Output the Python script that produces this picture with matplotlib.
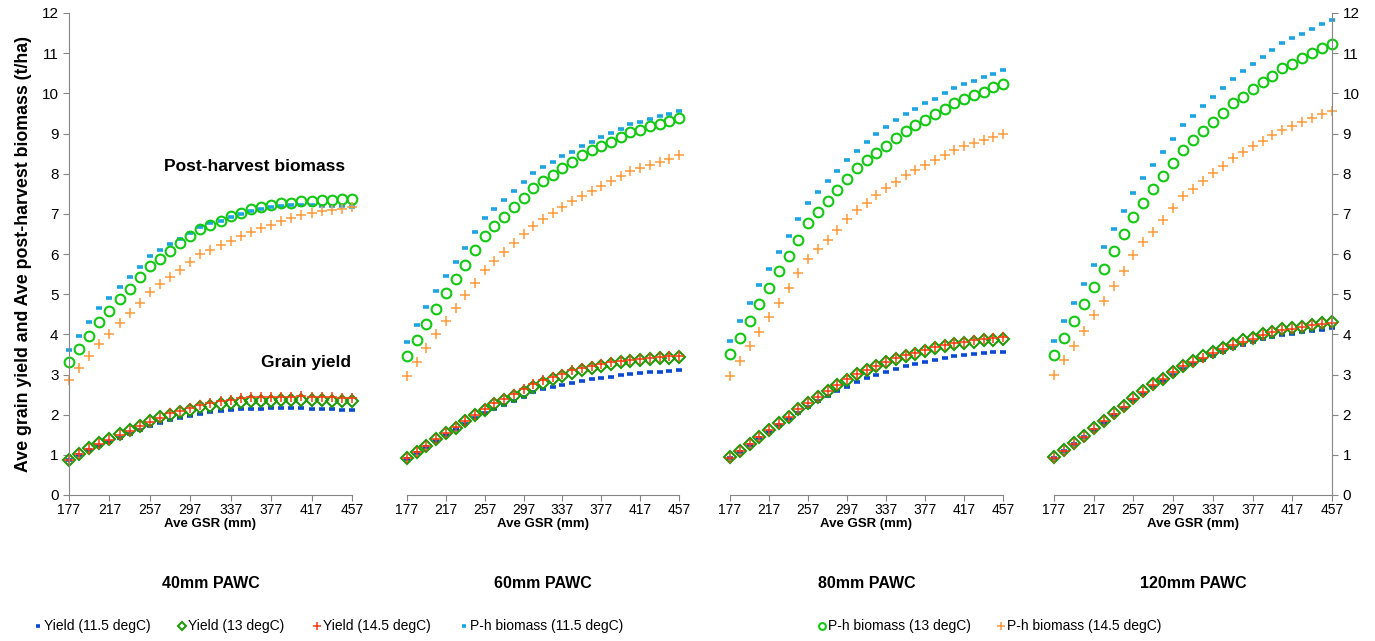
import matplotlib
matplotlib.use("Agg")
import matplotlib.pyplot as plt
from matplotlib.lines import Line2D

plt.rcParams['font.family'] = ['Liberation Sans', 'DejaVu Sans']

gsr = list(range(177, 458, 10))
xticks = [177, 217, 257, 297, 337, 377, 417, 457]
panels = ["40mm PAWC", "60mm PAWC", "80mm PAWC", "120mm PAWC"]

# ---- 40mm PAWC ----
yld115_40 = [0.87, 0.99, 1.12, 1.23, 1.33, 1.43, 1.53, 1.62, 1.72, 1.80, 1.86, 1.91, 1.97, 2.02, 2.06,
             2.09, 2.11, 2.13, 2.15, 2.15, 2.16, 2.16, 2.16, 2.16, 2.15, 2.14, 2.13, 2.12, 2.11]
yld13_40 = [0.86, 1.02, 1.16, 1.29, 1.39, 1.51, 1.62, 1.73, 1.83, 1.94, 1.99, 2.06, 2.12, 2.18, 2.22,
            2.26, 2.28, 2.31, 2.33, 2.34, 2.35, 2.36, 2.37, 2.37, 2.36, 2.36, 2.35, 2.34, 2.33]
yld145_40 = [0.86, 1.01, 1.14, 1.27, 1.38, 1.49, 1.60, 1.71, 1.82, 1.91, 2.03, 2.10, 2.17, 2.24, 2.28,
             2.33, 2.37, 2.41, 2.43, 2.44, 2.44, 2.45, 2.45, 2.46, 2.45, 2.44, 2.43, 2.42, 2.41]
bio115_40 = [3.60, 3.96, 4.31, 4.66, 4.91, 5.17, 5.43, 5.67, 5.95, 6.09, 6.24, 6.37, 6.52, 6.68, 6.78,
             6.83, 6.91, 7.00, 7.07, 7.13, 7.16, 7.20, 7.22, 7.22, 7.22, 7.20, 7.20, 7.19, 7.18]
bio13_40 = [3.30, 3.63, 3.97, 4.30, 4.57, 4.87, 5.14, 5.43, 5.69, 5.88, 6.08, 6.27, 6.45, 6.63, 6.73,
            6.83, 6.94, 7.02, 7.11, 7.18, 7.22, 7.26, 7.28, 7.31, 7.32, 7.34, 7.35, 7.36, 7.38]
bio145_40 = [2.86, 3.16, 3.47, 3.76, 4.02, 4.27, 4.53, 4.79, 5.05, 5.25, 5.43, 5.61, 5.81, 6.00, 6.11,
             6.23, 6.33, 6.44, 6.55, 6.64, 6.73, 6.82, 6.90, 6.96, 7.02, 7.06, 7.10, 7.13, 7.16]

# ---- 60mm PAWC ----
yld115_60 = [0.90, 1.05, 1.20, 1.35, 1.50, 1.64, 1.78, 1.91, 2.03, 2.14, 2.24, 2.35, 2.45, 2.56, 2.63,
             2.69, 2.74, 2.79, 2.84, 2.88, 2.91, 2.95, 2.98, 3.01, 3.03, 3.05, 3.07, 3.08, 3.10]
yld13_60 = [0.91, 1.07, 1.23, 1.39, 1.54, 1.68, 1.84, 1.99, 2.12, 2.26, 2.37, 2.47, 2.57, 2.70, 2.80,
            2.88, 2.97, 3.03, 3.11, 3.16, 3.22, 3.26, 3.31, 3.34, 3.36, 3.39, 3.41, 3.42, 3.43]
yld145_60 = [0.91, 1.07, 1.23, 1.39, 1.54, 1.69, 1.85, 2.00, 2.14, 2.28, 2.40, 2.52, 2.64, 2.77, 2.86,
             2.94, 3.02, 3.10, 3.16, 3.21, 3.27, 3.30, 3.34, 3.36, 3.39, 3.41, 3.43, 3.45, 3.47]
bio115_60 = [3.80, 4.24, 4.69, 5.08, 5.46, 5.81, 6.16, 6.54, 6.90, 7.12, 7.34, 7.56, 7.79, 8.01, 8.16,
             8.29, 8.43, 8.55, 8.70, 8.80, 8.91, 9.01, 9.11, 9.23, 9.29, 9.37, 9.43, 9.49, 9.57]
bio13_60 = [3.47, 3.86, 4.26, 4.64, 5.02, 5.37, 5.73, 6.09, 6.45, 6.69, 6.92, 7.17, 7.40, 7.64, 7.81,
            7.97, 8.14, 8.29, 8.47, 8.58, 8.70, 8.80, 8.91, 9.03, 9.09, 9.18, 9.24, 9.30, 9.38]
bio145_60 = [2.97, 3.32, 3.67, 4.02, 4.34, 4.66, 4.98, 5.29, 5.61, 5.83, 6.05, 6.27, 6.49, 6.70, 6.86,
             7.02, 7.16, 7.31, 7.45, 7.57, 7.70, 7.82, 7.93, 8.06, 8.14, 8.22, 8.29, 8.37, 8.46]

# ---- 80mm PAWC ----
yld115_80 = [0.93, 1.08, 1.24, 1.41, 1.58, 1.74, 1.89, 2.04, 2.19, 2.33, 2.46, 2.58, 2.70, 2.82, 2.91,
             2.99, 3.06, 3.14, 3.21, 3.26, 3.31, 3.36, 3.41, 3.45, 3.48, 3.51, 3.53, 3.55, 3.57]
yld13_80 = [0.94, 1.10, 1.27, 1.45, 1.62, 1.79, 1.95, 2.13, 2.30, 2.45, 2.59, 2.73, 2.87, 3.01, 3.11,
            3.20, 3.30, 3.38, 3.46, 3.51, 3.58, 3.65, 3.70, 3.75, 3.79, 3.81, 3.85, 3.86, 3.88]
yld145_80 = [0.93, 1.09, 1.26, 1.44, 1.61, 1.78, 1.95, 2.13, 2.30, 2.45, 2.60, 2.74, 2.88, 3.02, 3.12,
             3.22, 3.32, 3.40, 3.48, 3.54, 3.61, 3.68, 3.73, 3.78, 3.82, 3.85, 3.89, 3.91, 3.94]
bio115_80 = [3.84, 4.32, 4.78, 5.24, 5.63, 6.04, 6.46, 6.88, 7.28, 7.55, 7.81, 8.07, 8.33, 8.57, 8.79,
             8.98, 9.17, 9.34, 9.48, 9.62, 9.75, 9.87, 10.01, 10.13, 10.22, 10.31, 10.40, 10.49, 10.57]
bio13_80 = [3.50, 3.91, 4.33, 4.75, 5.16, 5.57, 5.95, 6.36, 6.76, 7.04, 7.31, 7.59, 7.86, 8.14, 8.33,
            8.52, 8.70, 8.88, 9.06, 9.21, 9.34, 9.49, 9.62, 9.75, 9.87, 9.95, 10.04, 10.15, 10.24]
bio145_80 = [2.97, 3.34, 3.71, 4.06, 4.43, 4.79, 5.15, 5.52, 5.87, 6.12, 6.36, 6.60, 6.86, 7.10, 7.28,
             7.47, 7.64, 7.80, 7.97, 8.09, 8.22, 8.34, 8.47, 8.59, 8.68, 8.77, 8.85, 8.92, 8.99]

# ---- 120mm PAWC ----
yld115_120 = [0.93, 1.09, 1.26, 1.44, 1.62, 1.80, 1.98, 2.17, 2.36, 2.52, 2.69, 2.84, 3.00, 3.14, 3.25,
              3.36, 3.47, 3.56, 3.65, 3.73, 3.80, 3.88, 3.93, 3.98, 4.02, 4.06, 4.09, 4.12, 4.15]
yld13_120 = [0.95, 1.12, 1.29, 1.48, 1.66, 1.85, 2.03, 2.22, 2.41, 2.58, 2.76, 2.90, 3.07, 3.22, 3.34,
             3.45, 3.56, 3.66, 3.77, 3.85, 3.91, 4.01, 4.07, 4.13, 4.16, 4.19, 4.24, 4.27, 4.30]
yld145_120 = [0.93, 1.10, 1.27, 1.45, 1.64, 1.83, 2.01, 2.20, 2.39, 2.56, 2.73, 2.88, 3.05, 3.20, 3.31,
              3.42, 3.53, 3.63, 3.74, 3.82, 3.89, 3.98, 4.05, 4.11, 4.14, 4.18, 4.22, 4.25, 4.28]
bio115_120 = [3.83, 4.32, 4.79, 5.26, 5.73, 6.17, 6.61, 7.08, 7.53, 7.88, 8.21, 8.54, 8.87, 9.20, 9.44,
              9.68, 9.90, 10.13, 10.35, 10.56, 10.73, 10.90, 11.08, 11.25, 11.37, 11.48, 11.60, 11.72, 11.83]
bio13_120 = [3.48, 3.91, 4.32, 4.76, 5.19, 5.62, 6.07, 6.51, 6.93, 7.27, 7.61, 7.94, 8.26, 8.60, 8.83,
             9.07, 9.29, 9.52, 9.75, 9.92, 10.10, 10.27, 10.43, 10.62, 10.73, 10.87, 11.00, 11.12, 11.23]
bio145_120 = [2.98, 3.35, 3.70, 4.08, 4.47, 4.83, 5.21, 5.58, 5.97, 6.29, 6.56, 6.84, 7.15, 7.44, 7.61,
              7.82, 8.02, 8.20, 8.38, 8.54, 8.68, 8.82, 8.96, 9.08, 9.18, 9.28, 9.38, 9.48, 9.57]

data = [
    [yld115_40, yld13_40, yld145_40, bio115_40, bio13_40, bio145_40],
    [yld115_60, yld13_60, yld145_60, bio115_60, bio13_60, bio145_60],
    [yld115_80, yld13_80, yld145_80, bio115_80, bio13_80, bio145_80],
    [yld115_120, yld13_120, yld145_120, bio115_120, bio13_120, bio145_120],
]
labels = ["Yield (11.5 degC)", "Yield (13 degC)", "Yield (14.5 degC)",
          "P-h biomass (11.5 degC)", "P-h biomass (13 degC)", "P-h biomass (14.5 degC)"]

styles = [
    dict(marker='_', color='#0a4ad2', ms=5, mew=2.6),
    dict(marker='D', mfc='none', mec='#1f9a06', ms=6.3, mew=1.5),
    dict(marker='+', color='#ff3a10', ms=7.5, mew=1.1),
    dict(marker='_', color='#1ea4e0', ms=5, mew=2.6),
    dict(marker='o', mfc='none', mec='#12c812', ms=7, mew=1.5),
    dict(marker='+', color='#ff9a3a', ms=7.5, mew=1.1),
]

W, H = 1375, 641
fig = plt.figure(figsize=(W / 100, H / 100), dpi=100)
boxes = [(69, 352), (407, 679), (730, 1003), (1054, 1332)]
top, bot = 13, 495
axc = '#868686'

for i, (x0, x1) in enumerate(boxes):
    ax = fig.add_axes([x0 / W, (H - bot) / H, (x1 - x0) / W, (bot - top) / H])
    for vals, st in zip(data[i], styles):
        ax.plot(gsr, vals, linestyle='none', clip_on=False, **st)
    ax.set_xlim(177, 457)
    ax.set_ylim(0, 12)
    ax.set_xticks(xticks)
    ax.set_yticks(range(0, 13))
    for s in ax.spines.values():
        s.set_visible(False)
        s.set_color(axc)
    ax.spines['bottom'].set_visible(True)
    ax.tick_params(axis='x', colors=axc, labelcolor='black', labelsize=10, length=4, pad=1.5,
                   direction='out')
    ax.tick_params(axis='y', colors=axc, labelcolor='black', labelsize=11, length=4, direction='out')
    if i == 0:
        ax.spines['left'].set_visible(True)
        ax.set_ylabel("Ave grain yield and Ave post-harvest biomass (t/ha)",
                      fontsize=12.8, fontweight='bold', labelpad=7)
        ax.text(361, 8.17, "Post-harvest biomass", fontsize=12.5, fontweight='bold',
                ha='center', va='center')
        ax.text(411, 3.31, "Grain yield", fontsize=12.5, fontweight='bold',
                ha='center', va='center')
    elif i == 3:
        ax.spines['right'].set_visible(True)
        ax.yaxis.tick_right()
    else:
        ax.tick_params(axis='y', left=False, labelleft=False)
    ax.set_xlabel("Ave GSR (mm)", fontsize=9.5, fontweight='bold', labelpad=1)
    ax.patch.set_visible(False)
    fig.text((x0 + x1) / 2 / W, (H - 583) / H, panels[i], fontsize=11.5,
             fontweight='bold', ha='center', va='center')

# legend row
mx = [38, 182, 317, 464, 822, 1001]
ly = (H - 626) / H
for xm, lab, st in zip(mx, labels, styles):
    st2 = dict(st)
    st2['ms'] = st2['ms'] * 0.7
    fig.add_artist(Line2D([xm / W], [ly], transform=fig.transFigure, linestyle='none', **st2))
    fig.text((xm + 6) / W, ly, lab, fontsize=10, ha='left', va='center')

fig.savefig("out.png", dpi=100)
